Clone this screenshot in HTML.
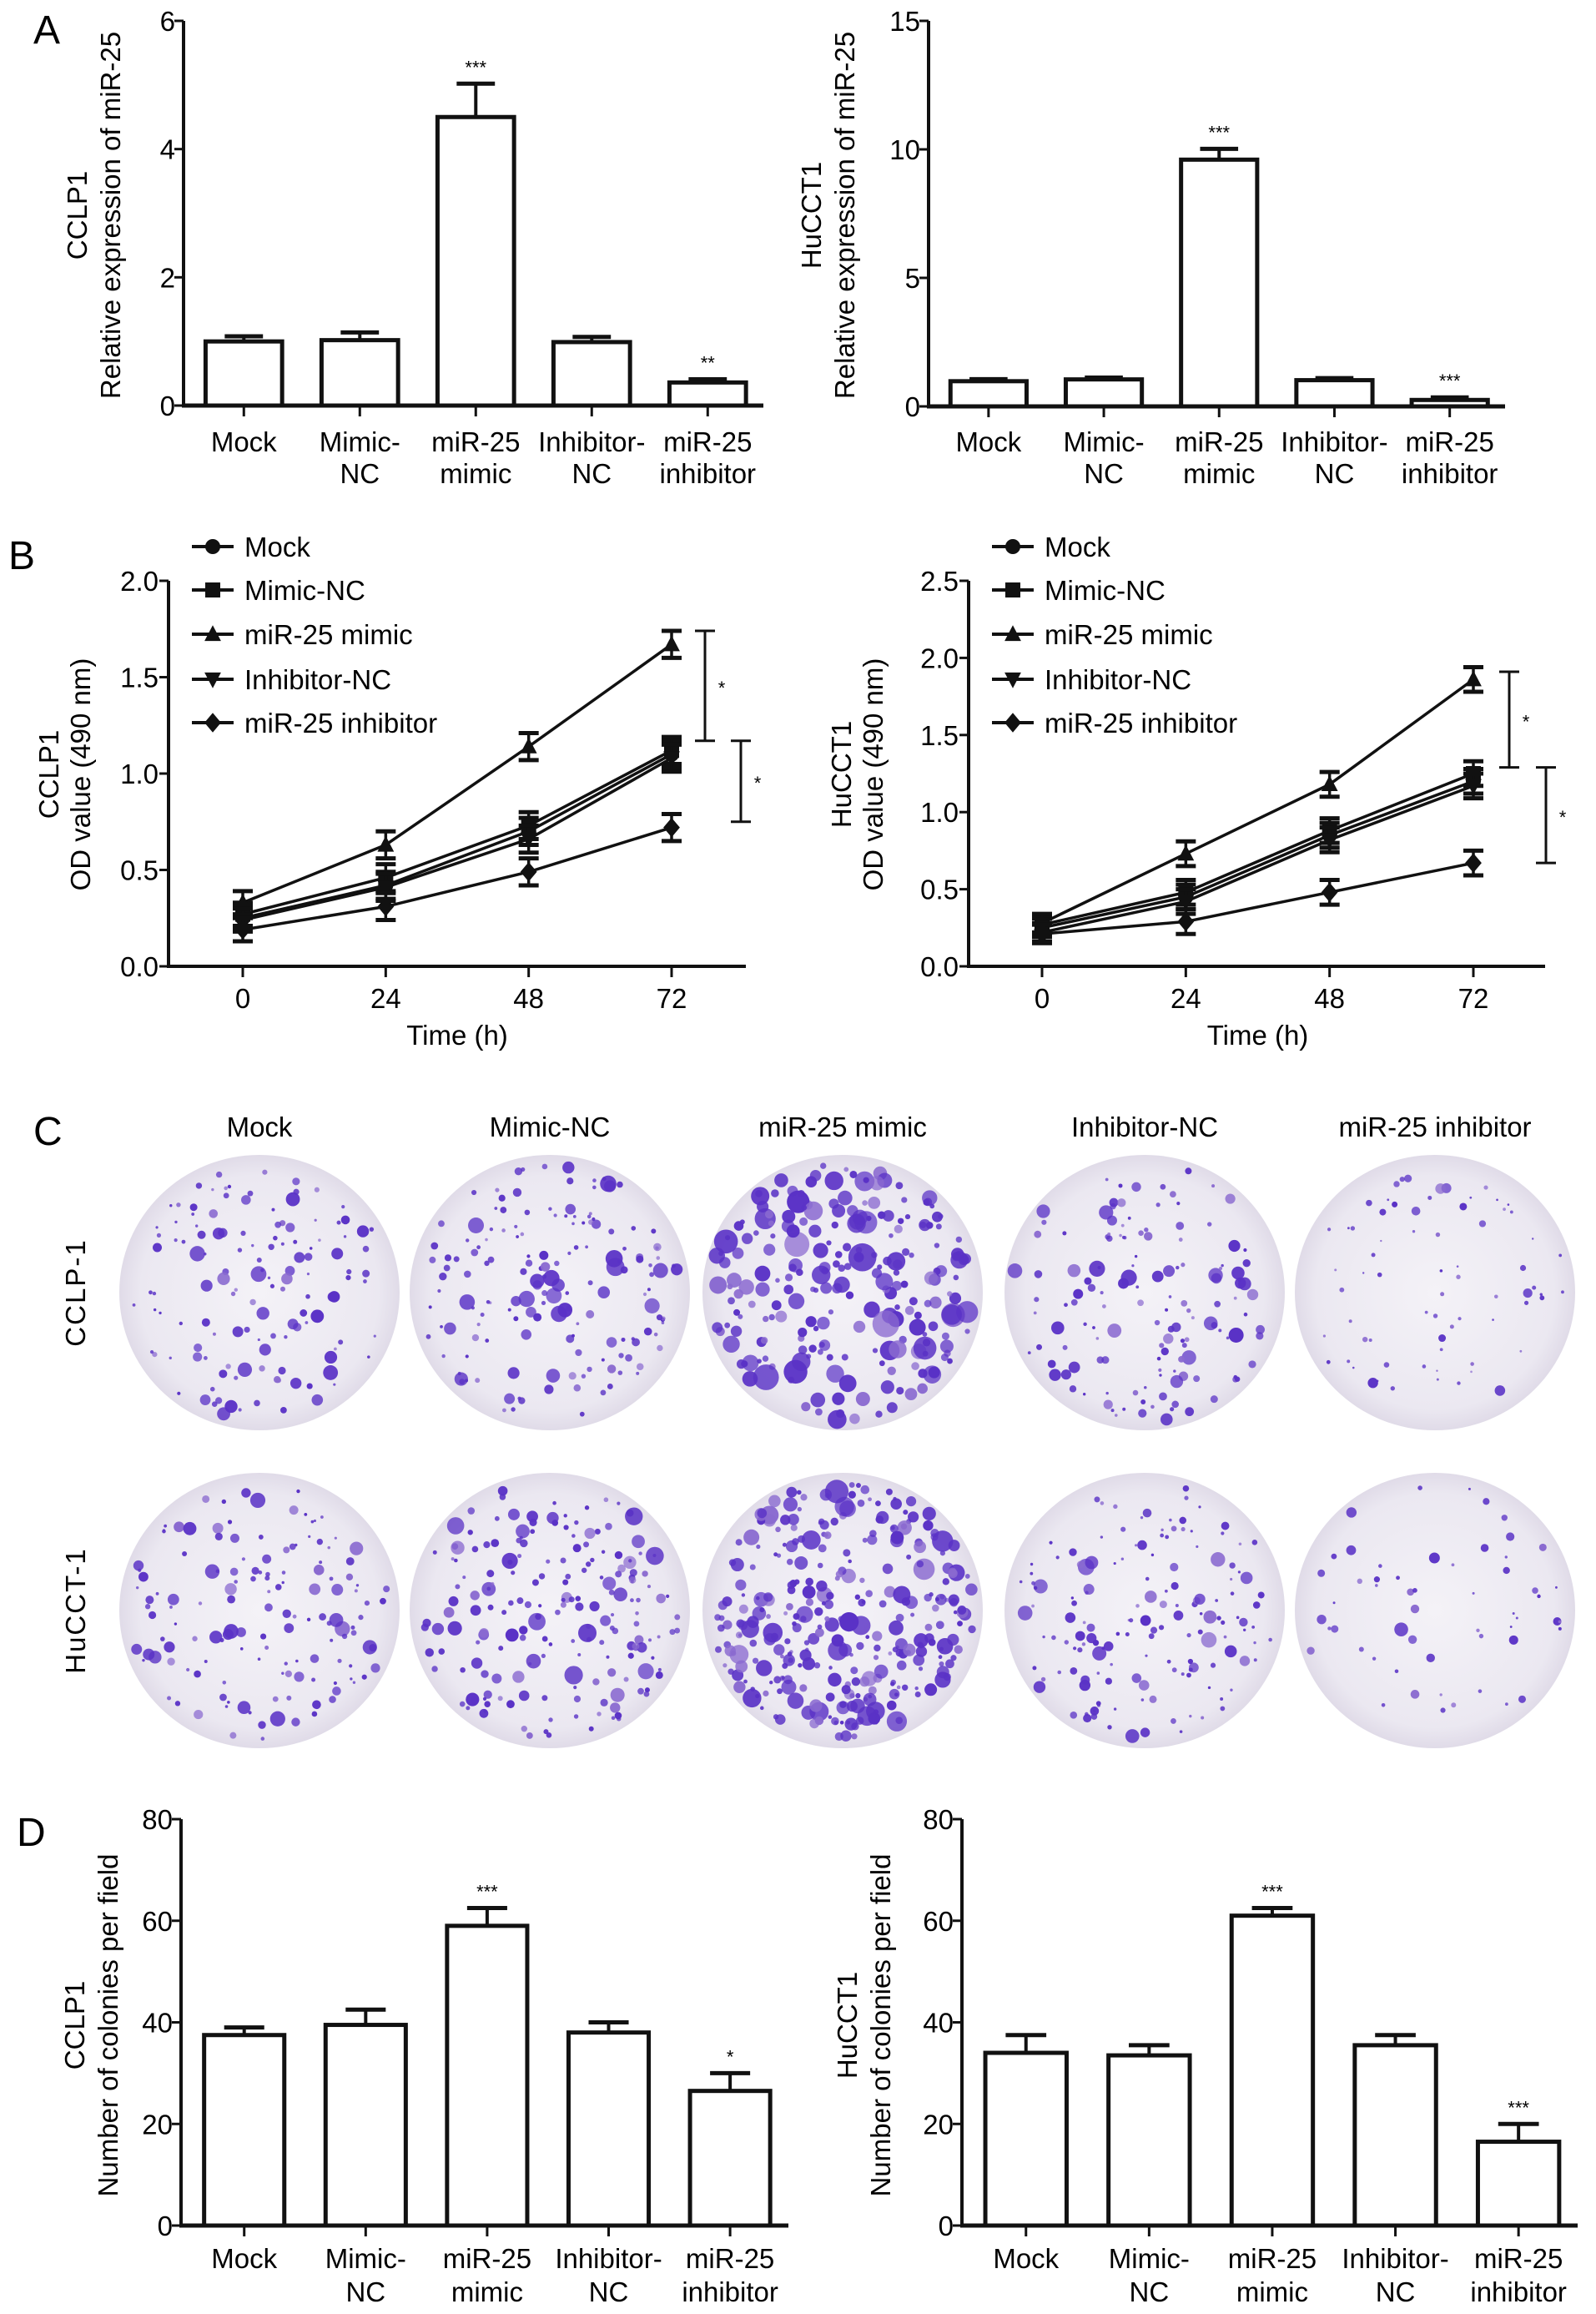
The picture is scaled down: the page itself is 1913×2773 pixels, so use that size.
<!DOCTYPE html>
<html><head><meta charset="utf-8"><style>
html,body{margin:0;padding:0;background:#fff;}
svg{display:block;font-family:"Liberation Sans",Arial,sans-serif;}
</style></head><body>
<svg id="fig" width="1913" height="2773" viewBox="0 0 1913 2773" xmlns="http://www.w3.org/2000/svg">
<defs>
<radialGradient id="plateGrad" cx="50%" cy="50%" r="50%">
<stop offset="0%" stop-color="#f4f2f7"/><stop offset="85%" stop-color="#ebe8f1"/><stop offset="100%" stop-color="#e0dbe8"/>
</radialGradient>
</defs>
<text x="40" y="52" font-size="48">A</text>
<text x="10" y="682" font-size="48">B</text>
<text x="40" y="1372" font-size="48">C</text>
<text x="20" y="2212" font-size="48">D</text>
</svg>
<script>
// ---- Data ----
const categories = ["Mock","Mimic-NC","miR-25 mimic","Inhibitor-NC","miR-25 inhibitor"];
const catLine1 = ["Mock","Mimic-","miR-25","Inhibitor-","miR-25"];
const catLine2 = ["","NC","mimic","NC","inhibitor"];
const aCclpValues = [1.0, 1.02, 4.5, 0.99, 0.36];
const aCclpErrors = [0.08, 0.12, 0.52, 0.08, 0.05];
const aCclpStars = ["","","***","","**"];
const aCclpTicks = [0,2,4,6];
const aHuValues = [0.98, 1.05, 9.6, 1.02, 0.25];
const aHuErrors = [0.08, 0.07, 0.42, 0.08, 0.1];
const aHuStars = ["","","***","","***"];
const aHuTicks = [0,5,10,15];
const timePoints = [0,24,48,72];
const seriesNames = ["Mock","Mimic-NC","miR-25 mimic","Inhibitor-NC","miR-25 inhibitor"];
const seriesMarkers = ["circle","square","triangle","triangleDown","diamond"];
const bCclpMock = [0.25,0.42,0.70,1.10];
const bCclpMimicNC = [0.27,0.46,0.73,1.12];
const bCclpMimic = [0.33,0.63,1.14,1.67];
const bCclpInhibNC = [0.24,0.41,0.66,1.08];
const bCclpInhib = [0.19,0.31,0.49,0.72];
const bCclpErr = [0.06,0.07,0.07,0.07];
const bCclpTicks = [0.0,0.5,1.0,1.5,2.0];
const bCclpBrackets = [[1.74,1.17],[1.17,0.75]];
const bHuMock = [0.25,0.45,0.85,1.20];
const bHuMimicNC = [0.27,0.48,0.88,1.25];
const bHuMimic = [0.28,0.73,1.18,1.86];
const bHuInhibNC = [0.22,0.42,0.82,1.17];
const bHuInhib = [0.21,0.29,0.48,0.67];
const bHuErr = [0.06,0.08,0.08,0.08];
const bHuTicks = [0.0,0.5,1.0,1.5,2.0,2.5];
const bHuBrackets = [[1.91,1.29],[1.29,0.67]];
const dCclpValues = [37.5, 39.5, 59, 38, 26.5];
const dCclpErrors = [1.5, 3, 3.5, 2, 3.5];
const dCclpStars = ["","","***","","*"];
const dHuValues = [34, 33.5, 61, 35.5, 16.5];
const dHuErrors = [3.5, 2, 1.5, 2, 3.5];
const dHuStars = ["","","***","","***"];
const dTicks = [0,20,40,60,80];

const FS = 33;
const svg = document.getElementById('fig');
const NS = "http://www.w3.org/2000/svg";
function mk(tag, attrs, parent){
  const e = document.createElementNS(NS, tag);
  for (const k in attrs) e.setAttribute(k, attrs[k]);
  (parent||svg).appendChild(e);
  return e;
}
function txt(x,y,s,size,anchor,parent){
  const t = mk('text',{x:x,y:y,'font-size':size,'text-anchor':anchor||'middle'},parent);
  t.textContent = s;
  return t;
}

function barChart(o){
  const g = mk('g',{});
  
  
  const ys = v => o.yBot - (v - 0) / o.ymax * (o.yBot - o.yTop);
  const step = (o.x1 - o.x0) / o.values.length;
  const bw = step * 0.66;
  const cx = i => o.x0 + (i + 0.52) * step;
  const ya = mk('line',{x1:o.x0,y1:o.yTop,x2:o.x0,y2:o.yBot,stroke:'#111','stroke-width':4},g);
  
  
  o.ticks.forEach(t=>{
    mk('line',{x1:o.x0-11,y1:ys(t),x2:o.x0,y2:ys(t),stroke:'#111','stroke-width':3},g);
    const tl = txt(o.x0-10, ys(t)+12, String(t), FS, 'end', g);
    
    
  });
  o.values.forEach((v,i)=>{
    const x = cx(i);
    const top = ys(v);
    const et = ys(v + o.errors[i]);
    const eb = mk('line',{x1:x,y1:top,x2:x,y2:et,stroke:'#111','stroke-width':4},g);
    
    
    mk('line',{x1:x-bw*0.25,y1:et,x2:x+bw*0.25,y2:et,stroke:'#111','stroke-width':5},g);
    const r = mk('rect',{x:x-bw/2,y:top,width:bw,height:o.yBot-top,fill:'#fff',stroke:'#111','stroke-width':5},g);
    
    
    if (o.stars[i]) {
      const s = txt(x, et-12, o.stars[i], 22, 'middle', g);
      
      
    }
    mk('line',{x1:x,y1:o.yBot,x2:x,y2:o.yBot+13,stroke:'#111','stroke-width':3},g);
    const l1 = txt(x, o.lab1, catLine1[i], FS, 'middle', g);
    
    
    if (catLine2[i]) {
      const l2 = txt(x, o.lab2, catLine2[i], FS, 'middle', g);
      
      
    }
  });
  const xa = mk('line',{x1:o.x0-2,y1:o.yBot,x2:o.x1,y2:o.yBot,stroke:'#111','stroke-width':5},g);
  
  
  const yt = mk('text',{transform:`translate(${o.ylx},${o.ycy}) rotate(-90)`,'font-size':FS,'text-anchor':'middle'},g);
  
  
  const ts1 = mk('tspan',{x:0,y:0},yt); ts1.textContent = o.ytitle1;
  const ts2 = mk('tspan',{x:0,dy:40},yt); ts2.textContent = o.ytitle2;
}

barChart({name:'chart-a-cclp1',x0:220,x1:915,yTop:25,yBot:486,ymax:6,ticks:aCclpTicks,values:aCclpValues,errors:aCclpErrors,stars:aCclpStars,lab1:541,lab2:579,ylx:104,ycy:258,ytitle1:'CCLP1',ytitle2:'Relative expression of miR-25'});
barChart({name:'chart-a-hucct1',x0:1113,x1:1804,yTop:25,yBot:487,ymax:15,ticks:aHuTicks,values:aHuValues,errors:aHuErrors,stars:aHuStars,lab1:541,lab2:579,ylx:984,ycy:258,ytitle1:'HuCCT1',ytitle2:'Relative expression of miR-25'});
barChart({name:'chart-d-cclp1',x0:217,x1:945,yTop:2180,yBot:2667,ymax:80,ticks:dTicks,values:dCclpValues,errors:dCclpErrors,stars:dCclpStars,lab1:2718,lab2:2758,ylx:101,ycy:2427,ytitle1:'CCLP1',ytitle2:'Number of colonies per field'});
barChart({name:'chart-d-hucct1',x0:1153,x1:1891,yTop:2180,yBot:2667,ymax:80,ticks:dTicks,values:dHuValues,errors:dHuErrors,stars:dHuStars,lab1:2718,lab2:2758,ylx:1027,ycy:2427,ytitle1:'HuCCT1',ytitle2:'Number of colonies per field'});

function marker(type,x,y,s,parent){
  let e;
  if (type==='circle') e = mk('circle',{cx:x,cy:y,r:s},parent);
  else if (type==='square') e = mk('rect',{x:x-s,y:y-s,width:2*s,height:2*s},parent);
  else if (type==='triangle') e = mk('polygon',{points:`${x},${y-s*1.2} ${x-s*1.1},${y+s*0.9} ${x+s*1.1},${y+s*0.9}`},parent);
  else if (type==='triangleDown') e = mk('polygon',{points:`${x},${y+s*1.2} ${x-s*1.1},${y-s*0.9} ${x+s*1.1},${y-s*0.9}`},parent);
  else e = mk('polygon',{points:`${x},${y-s*1.3} ${x+s*1.1},${y} ${x},${y+s*1.3} ${x-s*1.1},${y}`},parent);
  e.setAttribute('fill','#111');
  return e;
}

function lineChart(o){
  const g = mk('g',{});
  
  
  const xs = t => o.xt0 + t/72*(o.xt72-o.xt0);
  const ys = v => o.yBot - v/o.ymax*(o.yBot-o.yTop);
  const ya = mk('line',{x1:o.x0,y1:o.yTop,x2:o.x0,y2:o.yBot,stroke:'#111','stroke-width':4},g);
  
  
  const xa = mk('line',{x1:o.x0-2,y1:o.yBot,x2:o.x1,y2:o.yBot,stroke:'#111','stroke-width':4},g);
  
  
  o.ticks.forEach(t=>{
    mk('line',{x1:o.x0-11,y1:ys(t),x2:o.x0,y2:ys(t),stroke:'#111','stroke-width':3},g);
    const tl = txt(o.x0-12, ys(t)+12, t.toFixed(1), FS, 'end', g);
    
    
  });
  timePoints.forEach(t=>{
    mk('line',{x1:xs(t),y1:o.yBot,x2:xs(t),y2:o.yBot+13,stroke:'#111','stroke-width':3},g);
    const tl = txt(xs(t), o.yBot+50, String(t), FS, 'middle', g);
    
    
  });
  const xt = txt((o.xt0+o.xt72)/2, o.yBot+94, 'Time (h)', FS, 'middle', g);
  
  
  const yt = mk('text',{transform:`translate(${o.ylx},${o.ycy}) rotate(-90)`,'font-size':FS,'text-anchor':'middle'},g);
  
  
  const ts1 = mk('tspan',{x:0,y:0},yt); ts1.textContent = o.ytitle1;
  const ts2 = mk('tspan',{x:0,dy:38},yt); ts2.textContent = 'OD value (490 nm)';
  o.series.forEach((vals,si)=>{
    const sg = mk('g',{},g);
    
    
    const pts = vals.map((v,i)=>`${xs(timePoints[i])},${ys(v)}`).join(' ');
    mk('polyline',{points:pts,fill:'none',stroke:'#111','stroke-width':3.5},sg);
    vals.forEach((v,i)=>{
      const x = xs(timePoints[i]);
      const e = o.err[i];
      mk('line',{x1:x,y1:ys(v-e),x2:x,y2:ys(v+e),stroke:'#111','stroke-width':3.5},sg);
      mk('line',{x1:x-12,y1:ys(v+e),x2:x+12,y2:ys(v+e),stroke:'#111','stroke-width':5},sg);
      mk('line',{x1:x-12,y1:ys(v-e),x2:x+12,y2:ys(v-e),stroke:'#111','stroke-width':5},sg);
      const m = marker(seriesMarkers[si], x, ys(v), 9, sg);
      
      
    });
  });
  o.brackets.forEach((b,bi)=>{
    const bx = o.bx[bi];
    const bg = mk('g',{},g);
    
    
    mk('line',{x1:bx,y1:ys(b[0]),x2:bx,y2:ys(b[1]),stroke:'#111','stroke-width':3},bg);
    mk('line',{x1:bx-12,y1:ys(b[0]),x2:bx+12,y2:ys(b[0]),stroke:'#111','stroke-width':3},bg);
    mk('line',{x1:bx-12,y1:ys(b[1]),x2:bx+12,y2:ys(b[1]),stroke:'#111','stroke-width':3},bg);
    txt(bx+20, (ys(b[0])+ys(b[1]))/2+10, '*', 22, 'middle', bg);
  });
  const lys = [655,707,760,814,866];
  seriesNames.forEach((n,i)=>{
    const lg = mk('g',{},g);
    
    
    mk('line',{x1:o.legX,y1:lys[i],x2:o.legX+50,y2:lys[i],stroke:'#111','stroke-width':4},lg);
    marker(seriesMarkers[i], o.legX+25, lys[i], 9, lg);
    txt(o.legX+63, lys[i]+12, n, FS, 'start', lg);
  });
}

lineChart({name:'chart-b-cclp1',x0:202,x1:894,yTop:696,yBot:1158,ymax:2.0,xt0:291,xt72:805,ticks:bCclpTicks,
  series:[bCclpMock,bCclpMimicNC,bCclpMimic,bCclpInhibNC,bCclpInhib],err:bCclpErr,brackets:bCclpBrackets,bx:[845,888],
  legX:230,ylx:70,ycy:928,ytitle1:'CCLP1'});
lineChart({name:'chart-b-hucct1',x0:1161,x1:1852,yTop:696,yBot:1158,ymax:2.5,xt0:1249,xt72:1766,ticks:bHuTicks,
  series:[bHuMock,bHuMimicNC,bHuMimic,bHuInhibNC,bHuInhib],err:bHuErr,brackets:bHuBrackets,bx:[1809,1853],
  legX:1189,ylx:1020,ycy:928,ytitle1:'HuCCT1'});

// ---- Panel C: colony plates (image, procedurally textured) ----
const plateCols = [311,659,1010,1372,1720];
const plateRows = [1549,1930];
const rowLabels = ['CCLP-1','HuCCT-1'];
const colonyCounts = [[130,160,230,140,70],[140,190,320,150,55]];
const colonySizes = [[4,4.5,7,4,3],[4,5,5.5,4,3.5]];
let seed = 12345;
function rnd(){ seed = (seed*1103515245 + 12345) % 2147483648; return seed/2147483648; }
categories.forEach((c,i)=>{
  const h = txt(plateCols[i], 1362, c, FS, 'middle');
  
  
});
rowLabels.forEach((r,ri)=>{
  const t = mk('text',{transform:`translate(102,${plateRows[ri]}) rotate(-90)`,'font-size':FS,'text-anchor':'middle','letter-spacing':'2'});
  t.textContent = r;
  
  
  plateCols.forEach((cx,ci)=>{
    const cy = plateRows[ri];
    const pg = mk('g',{});
    
    
    mk('ellipse',{cx:cx,cy:cy,rx:168,ry:165,fill:'url(#plateGrad)'},pg);
    const n = colonyCounts[ri][ci], sz = colonySizes[ri][ci];
    for (let k=0;k<n;k++){
      const a = rnd()*Math.PI*2, d = Math.sqrt(rnd())*158;
      const r = sz*(0.4+rnd()*rnd()*2.2);
      mk('circle',{cx:cx+Math.cos(a)*d*1.0,cy:cy+Math.sin(a)*d*0.98,r:r.toFixed(1),fill:rnd()<0.2?'#8a6ad0':'#5a32c6','fill-opacity':(0.7+rnd()*0.3).toFixed(2)},pg);
    }
  });
});
</script>
</body></html>
